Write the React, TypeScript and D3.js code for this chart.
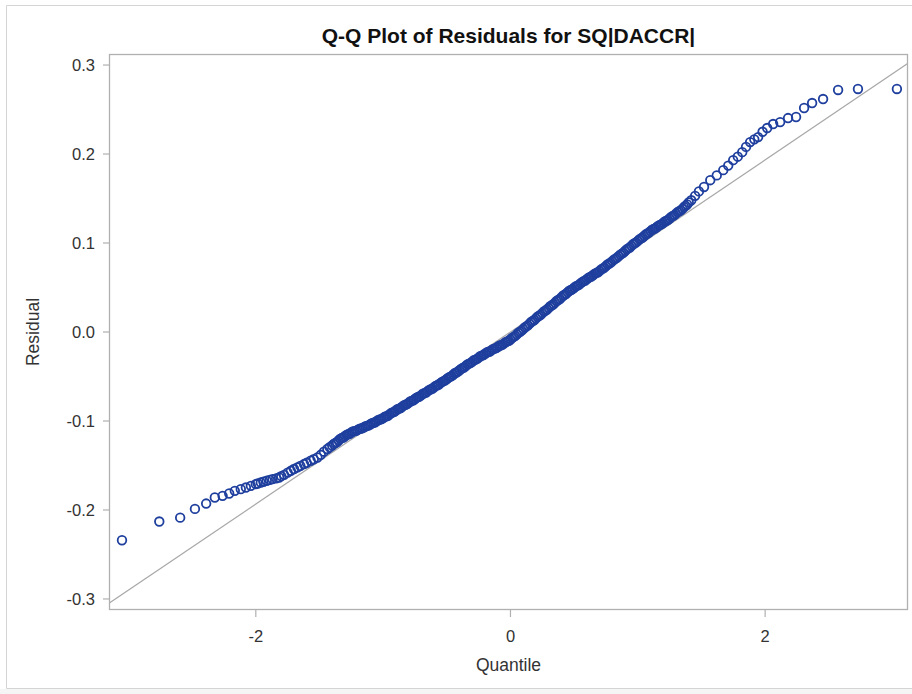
import React from "react";
import * as d3 from "d3";

// ---- data (theoretical quantile, residual) ----
const lowerTailQ = [-3.051, -2.758, -2.594, -2.478, -2.39, -2.322, -2.261, -2.209, -2.165, -2.118, -2.078, -2.039, -2.0, -1.985, -1.961, -1.94, -1.914, -1.89, -1.869, -1.84, -1.817, -1.8, -1.778, -1.75, -1.725, -1.7, -1.673, -1.65, -1.621, -1.6, -1.569, -1.545, -1.516, -1.49, -1.465, -1.438, -1.42];
const lowerTailR = [-0.234, -0.213, -0.2086, -0.1988, -0.1928, -0.186, -0.1841, -0.1815, -0.1785, -0.1766, -0.1748, -0.1729, -0.171, -0.1702, -0.1692, -0.1683, -0.1672, -0.1662, -0.1653, -0.1645, -0.1635, -0.162, -0.1605, -0.158, -0.156, -0.154, -0.1522, -0.1505, -0.1484, -0.147, -0.1447, -0.143, -0.141, -0.138, -0.1345, -0.1315, -0.1295];

const middleQ = [
  -1.4, -1.375, -1.35, -1.325, -1.3, -1.275, -1.25, -1.225, -1.2, -1.175, -1.15, -1.125, -1.1, -1.075, -1.05, -1.025,
  -1.0, -0.975, -0.95, -0.925, -0.9, -0.875, -0.85, -0.825, -0.8, -0.775, -0.75, -0.725, -0.7, -0.675, -0.65, -0.625,
  -0.6, -0.575, -0.55, -0.525, -0.5, -0.475, -0.45, -0.425, -0.4, -0.375, -0.35, -0.325, -0.3, -0.275, -0.25, -0.225,
  -0.2, -0.175, -0.15, -0.125, -0.1, -0.075, -0.05, -0.025, 0.0, 0.025, 0.05, 0.075, 0.1, 0.125, 0.15, 0.175,
  0.2, 0.225, 0.25, 0.275, 0.3, 0.325, 0.35, 0.375, 0.4, 0.425, 0.45, 0.475, 0.5, 0.525, 0.55, 0.575,
  0.6, 0.625, 0.65, 0.675, 0.7, 0.725, 0.75, 0.775, 0.8, 0.825, 0.85, 0.875, 0.9, 0.925, 0.95, 0.975,
  1.0, 1.025, 1.05, 1.075, 1.1, 1.125, 1.15, 1.175, 1.2, 1.225, 1.25, 1.275, 1.3, 1.325, 1.35, 1.375, 1.4,
];
const middleR = [
  -0.1276, -0.1247, -0.1219, -0.1192, -0.1171, -0.1149, -0.1129, -0.1114, -0.11, -0.1085, -0.107, -0.1055, -0.1037, -0.102, -0.1002, -0.0984,
  -0.0966, -0.0948, -0.0926, -0.0904, -0.0882, -0.0861, -0.0839, -0.0817, -0.0796, -0.0774, -0.0753, -0.0731, -0.0709, -0.0687, -0.0665, -0.0643,
  -0.0621, -0.0598, -0.0575, -0.0552, -0.0528, -0.0505, -0.048, -0.0455, -0.043, -0.0405, -0.038, -0.0355, -0.0333, -0.031, -0.0288, -0.0265,
  -0.0244, -0.0225, -0.0206, -0.0187, -0.0168, -0.0149, -0.0128, -0.0106, -0.0084, -0.0055, -0.0026, 0.0003, 0.0033, 0.0063, 0.0094, 0.0124,
  0.0153, 0.0183, 0.0212, 0.0241, 0.0271, 0.03, 0.033, 0.036, 0.0389, 0.0419, 0.0448, 0.0472, 0.0497, 0.0521, 0.0546, 0.0571,
  0.0594, 0.0617, 0.0641, 0.0664, 0.0687, 0.0714, 0.0741, 0.0769, 0.0796, 0.0824, 0.0852, 0.0881, 0.091, 0.0939, 0.0968, 0.0997,
  0.1024, 0.1052, 0.1079, 0.1107, 0.1134, 0.1157, 0.118, 0.1204, 0.1227, 0.125, 0.1276, 0.1303, 0.133, 0.1357, 0.1383, 0.1418, 0.1456,
];

// second pass of the dense centre band (points lying between the ones above)
const middleQ2 = [
  -1.3875, -1.3625, -1.3375, -1.3125, -1.2875, -1.2625, -1.2375, -1.2125, -1.1875, -1.1625, -1.1375, -1.1125, -1.0875, -1.0625, -1.0375, -1.0125,
  -0.9875, -0.9625, -0.9375, -0.9125, -0.8875, -0.8625, -0.8375, -0.8125, -0.7875, -0.7625, -0.7375, -0.7125, -0.6875, -0.6625, -0.6375, -0.6125,
  -0.5875, -0.5625, -0.5375, -0.5125, -0.4875, -0.4625, -0.4375, -0.4125, -0.3875, -0.3625, -0.3375, -0.3125, -0.2875, -0.2625, -0.2375, -0.2125,
  -0.1875, -0.1625, -0.1375, -0.1125, -0.0875, -0.0625, -0.0375, -0.0125, 0.0125, 0.0375, 0.0625, 0.0875, 0.1125, 0.1375, 0.1625, 0.1875,
  0.2125, 0.2375, 0.2625, 0.2875, 0.3125, 0.3375, 0.3625, 0.3875, 0.4125, 0.4375, 0.4625, 0.4875, 0.5125, 0.5375, 0.5625, 0.5875,
  0.6125, 0.6375, 0.6625, 0.6875, 0.7125, 0.7375, 0.7625, 0.7875, 0.8125, 0.8375, 0.8625, 0.8875, 0.9125, 0.9375, 0.9625, 0.9875,
  1.0125, 1.0375, 1.0625, 1.0875, 1.1125, 1.1375, 1.1625, 1.1875, 1.2125, 1.2375, 1.2625, 1.2875, 1.3125, 1.3375, 1.3625, 1.3875,
];
const middleR2 = [
  -0.1258, -0.1238, -0.1201, -0.1185, -0.1156, -0.1143, -0.1118, -0.1111, -0.1089, -0.1081, -0.1059, -0.1049, -0.1025, -0.1015, -0.0989, -0.0979,
  -0.0953, -0.0941, -0.0911, -0.0897, -0.0868, -0.0854, -0.0824, -0.081, -0.0781, -0.0767, -0.0738, -0.0724, -0.0694, -0.068, -0.065, -0.0636,
  -0.0606, -0.059, -0.056, -0.0544, -0.0513, -0.0496, -0.0464, -0.0446, -0.0414, -0.0396, -0.0364, -0.0347, -0.0318, -0.0302, -0.0273, -0.0258,
  -0.0231, -0.0219, -0.0193, -0.018, -0.0155, -0.0142, -0.0114, -0.0098, -0.0066, -0.0044, -0.0008, 0.0015, 0.0051, 0.0075, 0.0112, 0.0135,
  0.0171, 0.0194, 0.023, 0.0253, 0.0289, 0.0312, 0.0348, 0.0371, 0.0407, 0.043, 0.0463, 0.0481, 0.0512, 0.053, 0.0561, 0.0579,
  0.0609, 0.0626, 0.0656, 0.0672, 0.0704, 0.0724, 0.0758, 0.0779, 0.0813, 0.0835, 0.0869, 0.0892, 0.0928, 0.095, 0.0986, 0.1007,
  0.1041, 0.1062, 0.1096, 0.1117, 0.1149, 0.1165, 0.1195, 0.1212, 0.1242, 0.126, 0.1293, 0.1313, 0.1347, 0.1367, 0.1404, 0.1433,
];

const upperTailQ = [1.42, 1.45, 1.48, 1.52, 1.569, 1.62, 1.671, 1.71, 1.749, 1.785, 1.82, 1.85, 1.882, 1.915, 1.945, 1.98, 2.016, 2.063, 2.118, 2.18, 2.243, 2.306, 2.369, 2.455, 2.573, 2.729, 3.035];
const upperTailR = [0.148, 0.153, 0.158, 0.163, 0.1706, 0.176, 0.1819, 0.187, 0.1931, 0.197, 0.2021, 0.208, 0.2134, 0.2165, 0.219, 0.225, 0.2292, 0.2337, 0.2359, 0.2404, 0.2416, 0.2517, 0.2573, 0.2618, 0.272, 0.2731, 0.2731];

// reference line: residual = mu + sigma * quantile
const refMu = 0.0;
const refSigma = 0.0967;

const xTicks = [-2, 0, 2];
const yTicks = [0.3, 0.2, 0.1, 0.0, -0.1, -0.2, -0.3];

const titleText = "Q-Q Plot of Residuals for SQ|DACCR|";
const xLabel = "Quantile";
const yLabel = "Residual";

export default function App() {
  const W = 912, H = 694;
  const left = 109, right = 908, top = 54, bottom = 610;
  const x = d3.scaleLinear().domain([-3.153, 3.122]).range([left, right]);
  const y = d3.scaleLinear().domain([-0.3124, 0.3124]).range([bottom, top]);

  const qs = [...lowerTailQ, ...middleQ2, ...middleQ, ...upperTailQ];
  const rs = [...lowerTailR, ...middleR2, ...middleR, ...upperTailR];
  const pts = qs.map((q, i) => ({ q, r: rs[i] }));

  const [x0, x1] = x.domain();
  const line = d3.line<number>().x((q) => x(q)).y((q) => y(refMu + refSigma * q));

  const font = "'Liberation Sans', Arial, Helvetica, sans-serif";
  const gray = "#b0b0b0";

  return (
    <svg width={W} height={H} style={{ position: "absolute", left: 0, top: 0, background: "#fff" }} fontFamily={font}>
      <rect x={0} y={689} width={W} height={H - 689} fill="#f5f5f5" />
      <path d={`M${W},5.5H6.5V688.5H${W}`} fill="none" stroke="#d4d4d4" strokeWidth={1} />
      <defs>
        <clipPath id="plotclip">
          <rect x={left} y={top} width={right - left} height={bottom - top} />
        </clipPath>
      </defs>
      <text x={(left + right) / 2} y={43} textAnchor="middle" fontWeight="bold" fontSize={21} fill="#111">
        {titleText}
      </text>
      <path d={line([x0, x1]) || ""} fill="none" stroke="#a8a8a8" strokeWidth={1.2} clipPath="url(#plotclip)" />
      <g clipPath="url(#plotclip)">
        {pts.map((p, i) => (
          <circle key={i} cx={x(p.q)} cy={y(p.r)} r={4.3} fill="none" stroke="#1f3f9e" strokeWidth={1.8} />
        ))}
      </g>
      <rect x={left + 0.5} y={top + 0.5} width={right - left - 1} height={bottom - top - 1} fill="none" stroke={gray} strokeWidth={1.3} />
      {yTicks.map((t) => (
        <g key={t}>
          <line x1={left - 6} x2={left} y1={y(t)} y2={y(t)} stroke={gray} strokeWidth={1.2} />
          <text x={left - 14} y={y(t)} dy="0.36em" textAnchor="end" fontSize={16.5} fill="#333">
            {t.toFixed(1)}
          </text>
        </g>
      ))}
      {xTicks.map((t) => (
        <g key={t}>
          <line x1={x(t)} x2={x(t)} y1={bottom} y2={bottom + 7} stroke={gray} strokeWidth={1.2} />
          <text x={x(t)} y={bottom + 32} textAnchor="middle" fontSize={16.5} fill="#333">
            {String(t)}
          </text>
        </g>
      ))}
      <text x={(left + right) / 2} y={671} textAnchor="middle" fontSize={17.5} fill="#333">
        {xLabel}
      </text>
      <text transform={`translate(39,${(top + bottom) / 2}) rotate(-90)`} textAnchor="middle" fontSize={17.5} fill="#333">
        {yLabel}
      </text>
    </svg>
  );
}
